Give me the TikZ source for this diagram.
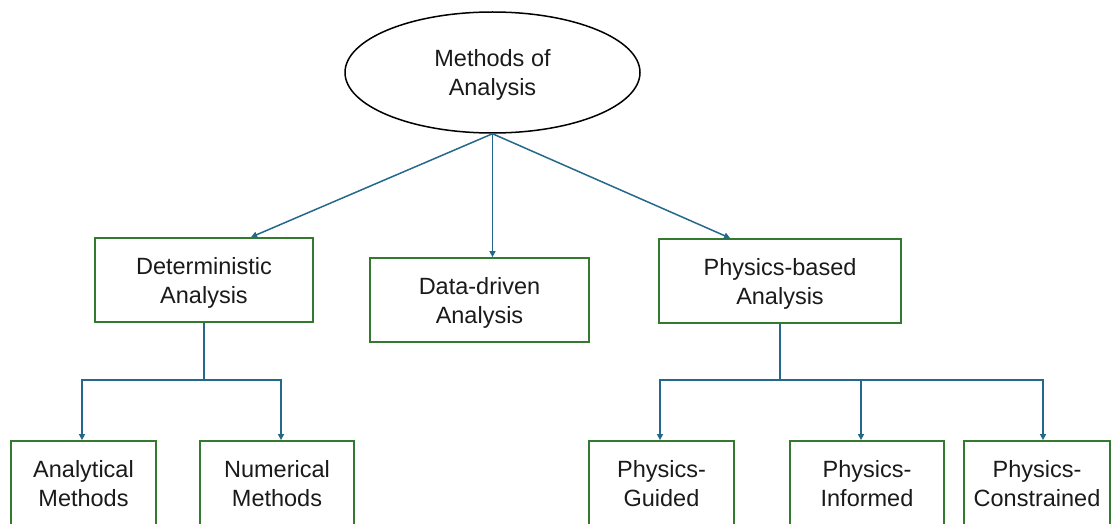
\documentclass[tikz,border=0pt]{standalone}
\usepackage{fontspec}
\setmainfont{Liberation Sans}
\usetikzlibrary{shapes.geometric,arrows.meta,calc}
\definecolor{linkblue}{RGB}{36,104,140}
\definecolor{boxgreen}{RGB}{52,122,46}
\definecolor{ink}{RGB}{26,26,26}
\tikzset{
  every node/.style={font=\fontsize{23.5}{29}\selectfont, text=ink, align=center},
  caption/.style={yshift=-2.5pt, inner sep=0pt},
  lowcaption/.style={yshift=0.5pt, inner sep=0pt},
  catbox/.style={draw=boxgreen, line width=1.8pt, rectangle, inner sep=0pt},
  rootshape/.style={draw=black, line width=1.5pt, ellipse, inner sep=0pt,
    minimum width=295pt, minimum height=121pt},
  link/.style={draw=linkblue, line width=1.5pt},
  arr/.style={link, -{Triangle[length=6pt,width=6pt]}},
}
\begin{document}
\begin{tikzpicture}[x=1pt,y=-1pt]
  \useasboundingbox (0,0) rectangle (1112,524);
  \clip (0,0) rectangle (1112,524);

  % root
  \node[rootshape, label={[caption]center:Methods of\\Analysis}] (root) at (492.5,72.5) {};

  % second level
  \node[catbox, minimum width=218pt, minimum height=84pt,
    label={[caption]center:Deterministic\\Analysis}] (det) at (204,280) {};
  \node[catbox, minimum width=219pt, minimum height=84pt,
    label={[caption]center:Data-driven\\Analysis}] (dat) at (479.5,300) {};
  \node[catbox, minimum width=242pt, minimum height=84pt,
    label={[caption]center:Physics-based\\Analysis}] (phy) at (780,281) {};

  % third level (bottom edges run past the lower border)
  \node[catbox, minimum width=145pt, minimum height=86pt,
    label={[lowcaption]center:Analytical\\Methods}] (ana) at (83.5,484) {};
  \node[catbox, minimum width=154pt, minimum height=86pt,
    label={[lowcaption]center:Numerical\\Methods}] (num) at (277,484) {};
  \node[catbox, minimum width=145pt, minimum height=86pt,
    label={[lowcaption]center:Physics-\\Guided}] (gui) at (661.5,484) {};
  \node[catbox, minimum width=154pt, minimum height=86pt,
    label={[lowcaption]center:Physics-\\Informed}] (inf) at (867,484) {};
  \node[catbox, minimum width=146pt, minimum height=86pt,
    label={[lowcaption]center:Physics-\\Constrained}] (con) at (1037,484) {};

  % root to second level
  \draw[arr] (root.south) -- ([xshift=157pt]det.north west);
  \draw[arr] (root.south) -- (root.south |- dat.north);
  \draw[arr] (root.south) -- ([xshift=72pt]phy.north west);

  % deterministic branch
  \coordinate (dj) at (204,380);
  \draw[link] (det.south) -- (dj);
  \draw[arr] (dj) -| ([xshift=-1.5pt]ana.north);
  \draw[arr] (dj) -| ([xshift=4pt]num.north);

  % physics-based branch
  \coordinate (pj) at (780,380);
  \draw[link] (phy.south) -- (pj);
  \draw[arr] (pj) -| ([xshift=-1.5pt]gui.north);
  \draw[arr] (pj) -| ([xshift=-6pt]inf.north);
  \draw[arr] (pj) -| ([xshift=6pt]con.north);
\end{tikzpicture}
\end{document}
